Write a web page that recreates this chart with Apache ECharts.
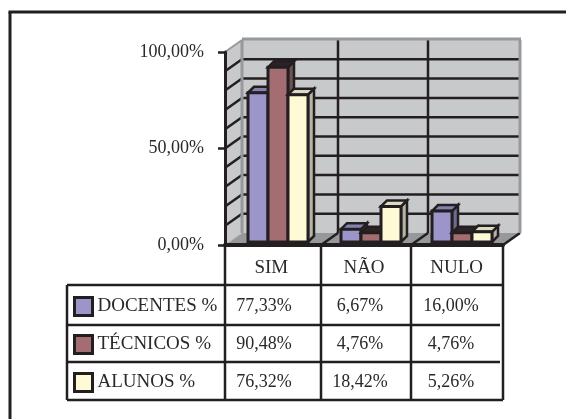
<!DOCTYPE html>
<html>
<head>
<meta charset="utf-8">
<style>
  html, body { margin: 0; padding: 0; background: #fff; }
  #main { width: 566px; height: 419px; }
</style>
<script src="https://cdn.jsdelivr.net/npm/echarts@6/dist/echarts.min.js"></script>
</head>
<body>
<div id="main"></div>
<script>
const categories = ['SIM', 'NÃO', 'NULO'];
const seriesNames = ['DOCENTES %', 'TÉCNICOS %', 'ALUNOS %'];
const docentes = [77.33, 6.67, 16.0];
const tecnicos = [90.48, 4.76, 4.76];
const alunos = [76.32, 18.42, 5.26];
const yTicks = [0, 50, 100];
const wallLines = [10, 20, 30, 40, 50, 60, 70, 80, 90];

const INK = '#231f20';
const FONT = '"Liberation Serif", serif';
const palette = [
  { front: '#9b95c9', top: '#8582ad', side: '#6f6c94' },
  { front: '#a46d72', top: '#2e2224', side: '#6e5355' },
  { front: '#fffad6', top: '#dcdac0', side: '#b5b5a2' }
];

// table columns in the picture are not quite even, so bars get nudged per band
const colEdges = [225, 321, 411, 503];
const rowEdges = [245, 285, 325, 362, 400];
const cellCenters = [264, 360, 451];
const rowCenters = [306, 344, 382];
const depthX = 17, depthY = 12;
const barW = 20, barD = 6;

function pct(v) {
  return v.toFixed(2).replace('.', ',') + '%';
}

function poly(points, fill, lw) {
  return {
    type: 'polygon',
    shape: { points: points },
    style: { fill: fill, stroke: INK, lineWidth: lw === undefined ? 2.5 : lw, lineJoin: 'miter' }
  };
}

function seg(x1, y1, x2, y2, color, w) {
  return {
    type: 'line',
    shape: { x1: x1, y1: y1, x2: x2, y2: y2 },
    style: { stroke: color, lineWidth: w }
  };
}

function renderWalls(params, api) {
  const y0 = api.coord([0, 0])[1];
  const y100 = api.coord([0, 100])[1];
  const left = colEdges[0], right = colEdges[3];
  const kids = [];
  // floor, left wall, back wall
  kids.push({ type: 'polygon', shape: { points: [[left, y0], [left + depthX, y0 - depthY], [right + depthX, y0 - depthY], [right, y0]] }, style: { fill: '#97989b' } });
  kids.push({ type: 'polygon', shape: { points: [[left, y100], [left + depthX, y100 - depthY], [left + depthX, y0 - depthY], [left, y0]] }, style: { fill: '#c8c9cb' } });
  kids.push({ type: 'rect', shape: { x: left + depthX, y: y100 - depthY, width: right - left, height: y0 - y100 }, style: { fill: '#c8c9cb' } });
  wallLines.forEach(function (v) {
    const y = api.coord([0, v])[1];
    kids.push(seg(left + depthX, y - depthY, right + depthX, y - depthY, INK, 2.5));
    kids.push(seg(left, y, left + depthX, y - depthY, INK, 2.5));
  });
  colEdges.slice(1, 3).forEach(function (x) {
    kids.push(seg(x + depthX, y100 - depthY, x + depthX, y0 - depthY, INK, 2.5));
  });
  colEdges.slice(1).forEach(function (x) {
    kids.push(seg(x, y0, x + depthX, y0 - depthY, INK, 2.5));
  });
  kids.push(seg(left, y0, left + depthX, y0 - depthY, '#b5b6b8', 1));
  // grey frame of the back wall
  kids.push(seg(left + depthX, y100 - depthY - 1, right + depthX + 1, y100 - depthY - 1, '#97999c', 3));
  kids.push(seg(left + depthX, y100 - depthY, left + depthX, y0 - depthY, '#97999c', 3));
  kids.push(seg(right + depthX, y100 - depthY, right + depthX, y0 - depthY, '#97999c', 3));
  kids.push(seg(left, y100, left + depthX, y100 - depthY, '#97999c', 2));
  return { type: 'group', children: kids };
}

function renderBar(seriesIdx) {
  return function (params, api) {
    const cat = api.value(0);
    const val = api.value(1);
    const band = api.coord([cat, 0]);
    const nudge = (colEdges[cat] + colEdges[cat + 1]) / 2 - band[0];
    const x = band[0] + nudge + 5 + (seriesIdx - 1.5) * barW;
    const yb = band[1] - 3;
    const yt = api.coord([cat, val])[1] - 3;
    const c = palette[seriesIdx];
    return {
      type: 'group',
      children: [
        poly([[x + barW, yt], [x + barW + barD, yt - barD], [x + barW + barD, yb - barD], [x + barW, yb]], c.side),
        poly([[x, yt], [x + barD, yt - barD], [x + barW + barD, yt - barD], [x + barW, yt]], c.top),
        poly([[x, yt], [x + barW, yt], [x + barW, yb], [x, yb]], c.front, 3)
      ]
    };
  };
}

const seriesValues = [docentes, tecnicos, alunos];

const barSeries = seriesNames.map(function (name, s) {
  return {
    name: name,
    type: 'custom',
    z: 3,
    clip: false,
    renderItem: renderBar(s),
    encode: { x: 0, y: 1 },
    data: seriesValues[s].map(function (v, i) { return [i, v]; })
  };
});

const tableGraphic = [];
// only the top and left edges of the figure frame are in the picture
tableGraphic.push({ type: 'line', z: 0, shape: { x1: 8.5, y1: 12, x2: 566, y2: 12 }, style: { stroke: INK, lineWidth: 3 } });
tableGraphic.push({ type: 'line', z: 0, shape: { x1: 10, y1: 12, x2: 10, y2: 419 }, style: { stroke: INK, lineWidth: 3 } });
// table rules
const tableLeft = 67;
colEdges.forEach(function (x) {
  tableGraphic.push({ type: 'line', z: 5, shape: { x1: x, y1: rowEdges[0], x2: x, y2: rowEdges[4] }, style: { stroke: INK, lineWidth: 2.5 } });
});
tableGraphic.push({ type: 'line', z: 5, shape: { x1: tableLeft, y1: rowEdges[1], x2: tableLeft, y2: rowEdges[4] }, style: { stroke: INK, lineWidth: 2.5 } });
rowEdges.slice(1).forEach(function (y, i) {
  // the two inner rules stop a little short of the right edge
  const end = (i === 1 || i === 2) ? colEdges[3] - 3 : colEdges[3];
  tableGraphic.push({ type: 'line', z: 5, shape: { x1: tableLeft, y1: y, x2: end, y2: y }, style: { stroke: INK, lineWidth: 2.5 } });
});
seriesValues.forEach(function (vals, r) {
  vals.forEach(function (v, c) {
    tableGraphic.push({
      type: 'text',
      z: 6,
      x: cellCenters[c],
      y: rowCenters[r],
      style: { text: pct(v), font: '18px ' + FONT, fill: '#2b2829', textAlign: 'center', textVerticalAlign: 'middle' }
    });
  });
});

const myChart = echarts.init(document.getElementById('main'), null, { renderer: 'canvas' });

myChart.setOption({
  backgroundColor: '#fff',
  animation: false,
  grid: { left: 225, right: 63, top: 52, bottom: 174 },
  legend: {
    left: 73,
    top: 296,
    orient: 'vertical',
    itemWidth: 18,
    itemHeight: 18,
    itemGap: 17,
    padding: 0,
    selectedMode: false,
    textStyle: { fontFamily: FONT, fontSize: 19, color: '#2b2829' },
    data: seriesNames.map(function (name, i) {
      return { name: name, icon: 'rect', itemStyle: { color: palette[i].front, borderColor: INK, borderWidth: 3 } };
    })
  },
  xAxis: {
    type: 'category',
    data: categories,
    axisLine: { show: true, lineStyle: { color: INK, width: 4 } },
    axisTick: { show: false },
    axisLabel: { margin: 14, fontFamily: FONT, fontSize: 19, color: '#2b2829' },
    z: 4
  },
  yAxis: {
    type: 'value',
    min: 0,
    max: 100,
    interval: 50,
    splitLine: { show: false },
    axisLine: { show: true, onZero: false, lineStyle: { color: INK, width: 3 } },
    axisTick: { show: true, length: 7, lineStyle: { color: INK, width: 2.5 } },
    axisLabel: {
      margin: 21,
      fontFamily: FONT,
      fontSize: 18,
      color: '#2b2829',
      formatter: function (v) { return yTicks.indexOf(v) >= 0 ? pct(v) : ''; }
    },
    z: 4
  },
  graphic: tableGraphic,
  series: [
    {
      name: 'wall',
      type: 'custom',
      z: 1,
      clip: false,
      silent: true,
      renderItem: renderWalls,
      encode: { x: 0, y: 1 },
      data: [[0, 0]]
    }
  ].concat(barSeries)
});
</script>
</body>
</html>
